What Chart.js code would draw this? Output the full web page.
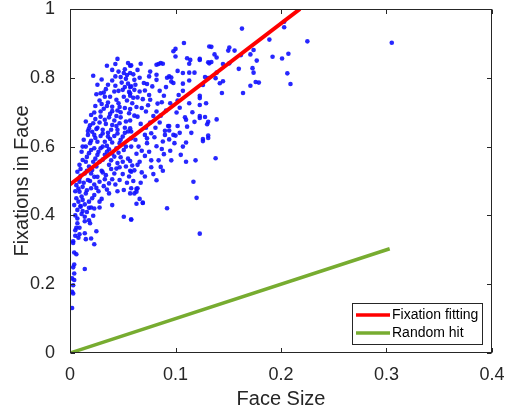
<!DOCTYPE html>
<html>
<head>
<meta charset="utf-8">
<script src="https://cdn.jsdelivr.net/npm/chart.js@4.4.0/dist/chart.umd.min.js"></script>
<style>
html,body{margin:0;padding:0;background:#fff;}
#wrap{width:505px;height:414px;position:relative;}
</style>
</head>
<body>
<div id="wrap"><canvas id="c" width="505" height="414"></canvas></div>
<script>
// Scatter: [face size, fixations in face]
const scatterPoints = [
[0.163,0.943],[0.203,0.963],[0.203,0.947],[0.189,0.911],[0.225,0.906],[0.305,0.902],[0.134,0.890],[0.151,0.888],
[0.150,0.879],[0.156,0.879],[0.137,0.868],[0.139,0.859],[0.123,0.852],[0.162,0.866],[0.171,0.868],[0.174,0.881],
[0.177,0.850],[0.192,0.861],[0.201,0.856],[0.207,0.870],[0.134,0.846],[0.132,0.842],[0.145,0.840],[0.151,0.842],
[0.160,0.826],[0.173,0.828],[0.174,0.815],[0.206,0.813],[0.139,0.815],[0.138,0.799],[0.131,0.799],[0.145,0.790],
[0.142,0.784],[0.126,0.779],[0.176,0.788],[0.179,0.786],[0.171,0.777],[0.209,0.782],[0.144,0.756],[0.164,0.756],
[0.123,0.741],[0.129,0.726],[0.123,0.683],[0.128,0.686],[0.139,0.679],[0.130,0.665],[0.126,0.616],[0.131,0.625],
[0.138,0.566],
[0.058,0.644],[0.071,0.634],[0.073,0.624],[0.077,0.639],[0.080,0.627],[0.073,0.610],[0.062,0.620],[0.058,0.624],
[0.058,0.600],[0.082,0.601],[0.087,0.593],[0.063,0.579],[0.071,0.573],[0.077,0.560],[0.057,0.558],[0.066,0.556],
[0.064,0.547],[0.059,0.545],[0.061,0.531],[0.077,0.540],[0.086,0.541],[0.057,0.530],[0.071,0.513],[0.082,0.502],
[0.090,0.646],[0.090,0.634],[0.094,0.647],[0.094,0.621],[0.098,0.634],[0.100,0.632],[0.093,0.660],[0.111,0.658],
[0.126,0.622],[0.131,0.632],[0.105,0.576],[0.110,0.556],[0.119,0.560],[0.117,0.498],[0.120,0.451],[0.092,0.421],
[0.123,0.347],[0.057,0.464],[0.061,0.464],[0.063,0.477],[0.063,0.469],[0.066,0.448],[0.069,0.436],[0.063,0.434],
[0.058,0.388],[0.057,0.653],
[0.108,0.901],[0.100,0.884],[0.098,0.877],[0.100,0.862],[0.111,0.857],[0.114,0.852],[0.113,0.841],[0.123,0.855],
[0.131,0.845],[0.132,0.891],[0.086,0.843],[0.088,0.841],[0.084,0.840],[0.082,0.838],[0.067,0.841],[0.058,0.836],
[0.064,0.823],[0.076,0.818],[0.057,0.814],[0.094,0.804],[0.096,0.801],[0.092,0.800],[0.102,0.820],[0.107,0.814],
[0.113,0.815],[0.118,0.815],[0.128,0.802],[0.082,0.809],[0.075,0.804],[0.061,0.794],[0.082,0.794],[0.096,0.789],
[0.113,0.792],[0.107,0.783],[0.098,0.785],[0.073,0.782],[0.057,0.773],[0.061,0.765],[0.071,0.763],[0.085,0.762],
[0.091,0.773],[0.107,0.762],[0.123,0.748],[0.064,0.743],[0.069,0.738],[0.076,0.736],[0.057,0.755],[0.095,0.726],
[0.102,0.734],[0.087,0.729],[0.063,0.715],[0.072,0.702],[0.082,0.702],[0.079,0.689],[0.064,0.687],[0.057,0.676],
[0.101,0.699],[0.104,0.713],[0.109,0.685],[0.110,0.678],[0.123,0.689],[0.131,0.672],[0.123,0.721],[0.113,0.726],
[0.094,0.660],[0.067,0.666],[0.057,0.709],[0.059,0.726],
[0.045,0.855],[0.043,0.840],[0.035,0.835],[0.055,0.843],[0.057,0.835],[0.040,0.823],[0.052,0.825],[0.051,0.814],
[0.054,0.808],[0.043,0.804],[0.022,0.806],[0.040,0.792],[0.053,0.797],[0.049,0.786],[0.026,0.780],[0.043,0.777],
[0.052,0.773],[0.058,0.775],[0.046,0.762],[0.056,0.759],[0.029,0.755],[0.025,0.752],[0.032,0.757],[0.038,0.745],
[0.051,0.745],[0.057,0.748],[0.044,0.736],[0.028,0.734],[0.054,0.734],[0.030,0.724],[0.035,0.718],[0.040,0.716],
[0.047,0.715],[0.024,0.718],[0.052,0.712],[0.040,0.703],[0.023,0.699],[0.020,0.692],[0.029,0.702],[0.044,0.689],
[0.029,0.687],[0.037,0.685],[0.048,0.685],
[0.015,0.673],[0.022,0.668],[0.028,0.670],[0.034,0.666],[0.040,0.663],[0.047,0.668],[0.053,0.673],[0.018,0.653],
[0.025,0.651],[0.031,0.649],[0.039,0.649],[0.045,0.649],[0.055,0.644],[0.017,0.634],[0.023,0.634],[0.029,0.631],
[0.036,0.629],[0.042,0.631],[0.050,0.629],[0.020,0.617],[0.026,0.614],[0.033,0.614],[0.040,0.612],[0.047,0.610],
[0.015,0.600],[0.023,0.595],[0.029,0.595],[0.037,0.592],[0.044,0.595],[0.051,0.590],[0.018,0.581],[0.026,0.576],
[0.033,0.576],[0.042,0.571],[0.048,0.569],[0.012,0.561],[0.015,0.556],[0.022,0.556],[0.028,0.556],[0.009,0.547],
[0.018,0.542],[0.025,0.542],[0.037,0.547],[0.045,0.552],[0.053,0.542],[0.058,0.527],[0.007,0.527],[0.014,0.522],
[0.020,0.522],[0.034,0.517],[0.042,0.522],[0.009,0.508],[0.017,0.503],[0.028,0.498],[0.037,0.493],[0.047,0.503],
[0.056,0.513],[0.006,0.488],[0.012,0.483],[0.020,0.479],[0.009,0.469],[0.015,0.464],[0.023,0.459],[0.037,0.464],
[0.051,0.474],[0.058,0.479],[0.006,0.450],[0.012,0.445],[0.018,0.440],[0.004,0.430],[0.010,0.427],[0.020,0.423],
[0.028,0.423],[0.040,0.430],
[0.007,0.416],[0.010,0.425],[0.018,0.422],[0.023,0.420],[0.012,0.413],[0.007,0.391],[0.014,0.396],[0.022,0.399],
[0.018,0.386],[0.014,0.383],[0.019,0.377],[0.007,0.377],[0.051,0.396],[0.058,0.388],[0.006,0.364],[0.009,0.364],
[0.005,0.357],[0.025,0.354],[0.014,0.348],[0.009,0.345],[0.005,0.341],[0.008,0.335],[0.015,0.331],[0.020,0.333],
[0.003,0.325],[0.003,0.320],[0.023,0.316],[0.004,0.292],[0.006,0.287],[0.004,0.257],[0.003,0.249],[0.014,0.244],
[0.004,0.231],[0.002,0.217],[0.004,0.212],[0.003,0.197],[0.002,0.178],[0.003,0.173],[0.002,0.131],
[0.064,0.479],[0.069,0.437],
[0.012,0.600],[0.019,0.610],[0.031,0.600],[0.035,0.585],[0.016,0.570],[0.024,0.565],[0.031,0.562],[0.039,0.560],
[0.010,0.535],[0.021,0.532],[0.030,0.530],[0.044,0.536],[0.050,0.556],[0.026,0.512],[0.033,0.505],[0.013,0.495],
[0.023,0.490],[0.008,0.478],[0.016,0.473],[0.027,0.470],[0.011,0.455],[0.030,0.448],[0.008,0.440],[0.014,0.432],
[0.026,0.655],[0.036,0.640],[0.045,0.638],[0.052,0.655],[0.021,0.643],[0.033,0.678],[0.042,0.676],[0.019,0.662],
[0.048,0.700],[0.036,0.728],[0.046,0.726],[0.033,0.745],[0.042,0.760],[0.048,0.802],[0.034,0.767],[0.055,0.783],
[0.065,0.600],[0.068,0.588],[0.072,0.655],[0.085,0.670],[0.088,0.615],[0.095,0.588],[0.084,0.560],[0.068,0.525],
[0.075,0.750],[0.089,0.748],[0.066,0.800],[0.078,0.775],[0.103,0.750],[0.116,0.700],[0.110,0.612],[0.102,0.660],
[0.011,0.585],[0.020,0.590],[0.027,0.585],[0.035,0.602],[0.040,0.580],[0.046,0.582],[0.053,0.600],[0.055,0.565],
[0.013,0.620],[0.017,0.645],[0.024,0.625],[0.031,0.638],[0.038,0.622],[0.048,0.620],[0.052,0.640],[0.044,0.660],
[0.010,0.515],[0.016,0.530],[0.023,0.512],[0.031,0.525],[0.039,0.535],[0.047,0.540],[0.050,0.520],[0.040,0.505],
[0.005,0.470],[0.009,0.498],[0.019,0.500],[0.025,0.480],[0.032,0.485],[0.043,0.490],[0.021,0.450],[0.005,0.400],
[0.011,0.404],[0.016,0.410],[0.028,0.440],[0.035,0.475],[0.045,0.470],[0.054,0.495],[0.060,0.500],[0.067,0.495],
[0.024,0.680],[0.038,0.695],[0.032,0.710],[0.045,0.705],[0.056,0.697],[0.061,0.690],[0.068,0.712],[0.060,0.742],
[0.066,0.760],[0.070,0.785],[0.062,0.780],[0.050,0.765],[0.036,0.780],[0.030,0.795],[0.046,0.818],[0.060,0.810],
[0.076,0.670],[0.081,0.655],[0.086,0.690],[0.091,0.705],[0.083,0.725],[0.074,0.720],[0.099,0.610],[0.104,0.640],
[0.089,0.578],[0.075,0.585],[0.079,0.520],[0.088,0.530],[0.096,0.560],[0.107,0.600],[0.115,0.640],[0.118,0.672]
];
// Fit and reference lines: [face size, fixations]
const fitLine = [[0, 0.49], [0.218, 1.0]];
const randomLine = [[0, 0], [0.303, 0.303]];
const xTicks = [0, 0.1, 0.2, 0.3, 0.4];
const yTicks = [0, 0.2, 0.4, 0.6, 0.8, 1];
const legendLabels = ['Fixation fitting', 'Random hit'];

const AX = '#262626';
const FONT = "'Liberation Sans', Arial, Helvetica, sans-serif";
const RED = '#ff0000';
const GREEN = '#77ac30';

const toXY = arr => arr.map(p => ({x: p[0], y: p[1]}));

const boxPlugin = {
  id: 'boxTicks',
  afterDraw(chart) {
    const {ctx, chartArea: a, scales} = chart;
    ctx.save();
    ctx.strokeStyle = AX;
    ctx.lineWidth = 1;
    const L = Math.round(a.left) + 0.5, R = Math.round(a.right) - 0.5;
    const T = Math.round(a.top) + 0.5, B = Math.round(a.bottom) - 0.5;
    ctx.strokeRect(L, T, R - L, B - T);
    const tl = 4.5;
    ctx.beginPath();
    xTicks.forEach(v => {
      const x = Math.round(scales.x.getPixelForValue(v)) + 0.5;
      ctx.moveTo(x, B); ctx.lineTo(x, B - tl);
      ctx.moveTo(x, T); ctx.lineTo(x, T + tl);
    });
    yTicks.forEach(v => {
      const y = Math.round(scales.y.getPixelForValue(v)) + 0.5;
      ctx.moveTo(L, y); ctx.lineTo(L + tl, y);
      ctx.moveTo(R, y); ctx.lineTo(R - tl, y);
    });
    ctx.stroke();
    // legend
    const lx = 352, ly = 303, lw = 130, lh = 41;
    ctx.fillStyle = '#fff';
    ctx.fillRect(lx, ly, lw, lh);
    ctx.strokeStyle = AX;
    ctx.strokeRect(lx + 0.5, ly + 0.5, lw, lh);
    const cols = [RED, GREEN];
    ctx.font = '14px ' + FONT;
    ctx.textBaseline = 'middle';
    ctx.textAlign = 'left';
    legendLabels.forEach((t, i) => {
      const yy = ly + 12 + i * 18;
      ctx.strokeStyle = cols[i];
      ctx.lineWidth = 3.5;
      ctx.beginPath(); ctx.moveTo(356, yy); ctx.lineTo(390, yy); ctx.stroke();
      ctx.fillStyle = '#000';
      ctx.fillText(t, 392, yy + 0.5);
    });
    ctx.restore();
  }
};

new Chart(document.getElementById('c'), {
  type: 'scatter',
  data: {
    datasets: [
      {label: legendLabels[0], data: toXY(fitLine), showLine: true, borderColor: RED, borderWidth: 4, pointRadius: 0, fill: false},
      {label: legendLabels[1], data: toXY(randomLine), showLine: true, borderColor: GREEN, borderWidth: 3.5, pointRadius: 0, fill: false},
      {label: 'data', data: toXY(scatterPoints), showLine: false, pointRadius: 2.3, pointBackgroundColor: 'rgba(15,15,255,0.9)', pointBorderWidth: 0, pointBorderColor: 'rgba(0,0,0,0)'}
    ]
  },
  options: {
    responsive: false,
    animation: false,
    devicePixelRatio: 1,
    layout: {padding: {left: 0, top: 9, right: 13, bottom: 0}},
    plugins: {legend: {display: false}, tooltip: {enabled: false}},
    scales: {
      x: {
        type: 'linear', min: 0, max: 0.4,
        afterBuildTicks: s => { s.ticks = xTicks.map(v => ({value: v})); },
        afterFit: s => { s.height = 61; s.paddingLeft = 0; s.paddingRight = 0; },
        grid: {display: false}, border: {display: false},
        ticks: {padding: 3, color: AX, font: {family: FONT, size: 18}, callback: v => String(v)},
        title: {display: true, text: 'Face Size', color: AX, font: {family: FONT, size: 20}, padding: {top: 0, bottom: 3}}
      },
      y: {
        type: 'linear', min: 0, max: 1,
        afterBuildTicks: s => { s.ticks = yTicks.map(v => ({value: v})); },
        afterFit: s => { s.width = 70; s.paddingTop = 0; s.paddingBottom = 0; },
        grid: {display: false}, border: {display: false},
        ticks: {padding: 7, color: AX, font: {family: FONT, size: 18}, callback: v => String(v)},
        title: {display: true, text: 'Fixations in Face', color: AX, font: {family: FONT, size: 20}, padding: {top: 10, bottom: 0}}
      }
    }
  },
  plugins: [boxPlugin]
});
</script>
</body>
</html>
